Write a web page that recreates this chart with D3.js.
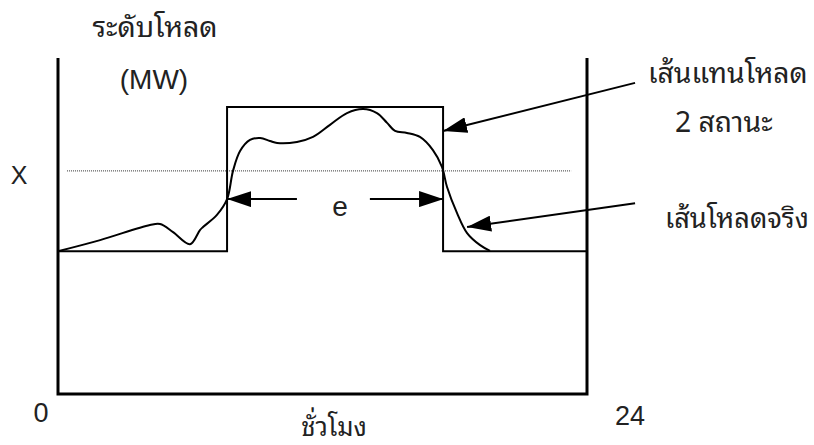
<!DOCTYPE html>
<html>
<head>
<meta charset="utf-8">
<script src="https://cdn.jsdelivr.net/npm/d3@7"></script>
<style>
  html, body { margin: 0; padding: 0; background: #fff; }
  svg { display: block; }
  .latin { font-family: "Liberation Sans", Arial, sans-serif; }
  .thai { font-family: "Noto Sans Thai Looped", "Noto Sans Thai", Tahoma, "DejaVu Sans", sans-serif; }
  .narrow { font-family: "Liberation Sans Narrow", "Arial Narrow", "Liberation Sans", sans-serif; }
</style>
</head>
<body>
<script>
// ---- data ----
const hourDomain = [0, 24];
const loadDomain = [0, 100];
const hourTicks = ["0", "24"];

// two-state representation (step)
const stepHours = [0, 7.67, 17.47, 24];
const stepLevels = [42.5, 85.4, 42.5, 42.5];

// actual load curve
const curveHours = [0, 1.91, 4.17, 4.63, 5.22, 5.99, 6.44, 6.58, 7.21, 7.67, 7.94, 8.26, 8.71, 9.17, 9.62, 9.94, 10.84, 11.57, 12.34, 13.11, 13.84, 14.47, 14.93, 15.29, 15.83, 16.42, 17.01, 17.42, 17.65, 18.10, 18.56, 19.15, 19.6];
const curveLoads = [42.5, 45.8, 50.3, 50.6, 48.2, 44.6, 48.8, 49.7, 53.3, 58.0, 66.4, 72.3, 75.6, 76.2, 75.3, 74.7, 75.0, 76.5, 80.1, 83.6, 84.8, 83.6, 80.7, 78.3, 77.7, 76.5, 72.6, 67.6, 61.6, 53.9, 47.9, 44.3, 42.6];

// threshold X
const thresholdLevel = 66.4;
const thresholdSpan = [0.41, 23.28];

// e arrows (hours, level)
const eLevel = 58.0;
const eLeft = [10.84, 7.67];
const eRight = [14.15, 17.47];

// label pointer arrows: [startHour, startLevel, tipHour, tipLevel]
const pointer1 = [26.18, 92.6, 17.47, 78.3];
const pointer2 = [26.18, 56.8, 18.56, 49.7];

const W = 814, H = 445;
const svg = d3.select("body").append("svg").attr("width", W).attr("height", H);

const x = d3.scaleLinear().domain(hourDomain).range([58, 587]);
const y = d3.scaleLinear().domain(loadDomain).range([394, 58]);

const defs = svg.append("defs");
defs.append("marker").attr("id", "ah")
  .attr("viewBox", "0 0 24 16").attr("refX", 24).attr("refY", 8)
  .attr("markerWidth", 24).attr("markerHeight", 16)
  .attr("markerUnits", "userSpaceOnUse").attr("orient", "auto")
  .append("path").attr("d", "M0,0 L24,8 L0,16 Z").attr("fill", "#000");

// axes frame (left, bottom, right)
const frame = d3.line()([[x(0), y(100)], [x(0), y(0)], [x(24), y(0)], [x(24), y(100)]]);
svg.append("path").attr("d", frame).attr("fill", "none").attr("stroke", "#000").attr("stroke-width", 3);

// threshold dotted line
svg.append("line")
  .attr("x1", x(thresholdSpan[0])).attr("x2", x(thresholdSpan[1]))
  .attr("y1", y(thresholdLevel)).attr("y2", y(thresholdLevel))
  .attr("stroke", "#333").attr("stroke-width", 1).attr("stroke-dasharray", "1,1");

// step
const stepLine = d3.line().x(d => x(d[0])).y(d => y(d[1])).curve(d3.curveStepAfter);
svg.append("path").attr("d", stepLine(stepHours.map((h, i) => [h, stepLevels[i]])))
  .attr("fill", "none").attr("stroke", "#000").attr("stroke-width", 2);

// actual curve
const smooth = d3.line().x(d => x(d[0])).y(d => y(d[1])).curve(d3.curveCatmullRom.alpha(0.5));
svg.append("path").attr("d", smooth(curveHours.map((h, i) => [h, curveLoads[i]])))
  .attr("fill", "none").attr("stroke", "#000").attr("stroke-width", 2);

// e arrows
[eLeft, eRight].forEach(a => {
  svg.append("line").attr("x1", x(a[0])).attr("x2", x(a[1]))
    .attr("y1", y(eLevel)).attr("y2", y(eLevel))
    .attr("stroke", "#000").attr("stroke-width", 2).attr("marker-end", "url(#ah)");
});
svg.append("text").attr("class", "latin").attr("x", x((eLeft[1] + eRight[1]) / 2) + 5).attr("y", 216)
  .attr("text-anchor", "middle").attr("font-size", 28).attr("fill", "#222").text("e");

// pointers
[pointer1, pointer2].forEach(p => {
  svg.append("line").attr("x1", x(p[0])).attr("y1", y(p[1])).attr("x2", x(p[2])).attr("y2", y(p[3]))
    .attr("stroke", "#000").attr("stroke-width", 2).attr("marker-end", "url(#ah)");
});

// labels
svg.append("text").attr("class", "thai").attr("x", 155).attr("y", 37).attr("text-anchor", "middle")
  .attr("font-size", 28.5).attr("fill", "#222").text("ระดับโหลด");
svg.append("text").attr("class", "latin").attr("x", 154).attr("y", 89).attr("text-anchor", "middle")
  .attr("font-size", 28).attr("fill", "#222").text("(MW)");
svg.append("text").attr("class", "latin").attr("x", 19).attr("y", 184).attr("text-anchor", "middle")
  .attr("font-size", 25).attr("fill", "#222").text("X");
svg.append("text").attr("class", "thai").attr("x", 648).attr("y", 83)
  .attr("font-size", 28.3).attr("fill", "#222").text("เส้นแทนโหลด");
svg.append("text").attr("class", "thai").attr("x", 675).attr("y", 132)
  .attr("font-size", 28.3).attr("fill", "#222").text("2 สถานะ");
svg.append("text").attr("class", "thai").attr("x", 665).attr("y", 228)
  .attr("font-size", 27.2).attr("fill", "#222").text("เส้นโหลดจริง");

// hour tick labels
svg.append("text").attr("class", "narrow").attr("x", x(0) - 17).attr("y", 422)
  .attr("text-anchor", "middle").attr("font-size", 27).attr("fill", "#222").text(hourTicks[0]);
svg.append("text").attr("class", "narrow").attr("x", x(24) + 43).attr("y", 425)
  .attr("text-anchor", "middle").attr("font-size", 27).attr("fill", "#222").text(hourTicks[1]);
svg.append("text").attr("class", "thai").attr("text-anchor", "middle").attr("font-size", 27).attr("fill", "#222")
  .attr("transform", "translate(334,436) scale(0.95,1)").text("ชั่วโมง");
</script>
</body>
</html>
